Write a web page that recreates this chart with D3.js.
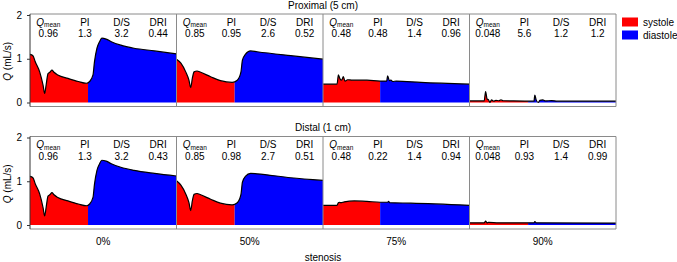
<!DOCTYPE html>
<html><head><meta charset="utf-8">
<script src="https://cdn.jsdelivr.net/npm/d3@7"></script>
<style>
body{margin:0;background:#fff}
text{font-family:"Liberation Sans",Arial,Helvetica,sans-serif;font-size:10px;fill:#000}
</style>
</head><body>
<svg id="chart" width="677" height="262"></svg>
<script>
// ---------- data ----------
const stenosis = ["0%", "50%", "75%", "90%"];
const locations = ["Proximal (5 cm)", "Distal (1 cm)"];
const statNames = ["Qmean", "PI", "D/S", "DRI"];
const yTicks = [0, 1, 2];
const legendLabels = ["systole", "diastole"];
const legendColors = ["#ff0000", "#0000ff"];
const systoleEnd = [0.396, 0.397, 0.39, 0.4];

const proxStats = [
  ["0.96", "1.3", "3.2", "0.44"],
  ["0.85", "0.95", "2.6", "0.52"],
  ["0.48", "0.48", "1.4", "0.96"],
  ["0.048", "5.6", "1.2", "1.2"]
];
const distStats = [
  ["0.96", "1.3", "3.2", "0.43"],
  ["0.85", "0.98", "2.7", "0.51"],
  ["0.48", "0.22", "1.4", "0.94"],
  ["0.048", "0.93", "1.4", "0.99"]
];

// waveforms: [fraction of cardiac cycle, Q (mL/s)]
const prox0 = [[0,1.10],[0.02,1.07],[0.036,0.93],[0.066,0.70],[0.089,0.40],[0.10,0.21],[0.11,0.40],[0.123,0.66],[0.135,0.69],[0.15,0.74],[0.164,0.69],[0.19,0.63],[0.26,0.55],[0.33,0.48],[0.385,0.44],[0.407,0.48],[0.43,0.63],[0.44,0.93],[0.457,1.24],[0.475,1.39],[0.49,1.47],[0.52,1.45],[0.555,1.39],[0.62,1.31],[0.71,1.24],[0.85,1.18],[1.0,1.11]];
const prox50 = [[0,0.99],[0.03,0.90],[0.063,0.70],[0.085,0.51],[0.097,0.34],[0.108,0.55],[0.12,0.70],[0.14,0.72],[0.165,0.69],[0.233,0.59],[0.30,0.50],[0.38,0.46],[0.415,0.51],[0.44,0.70],[0.45,0.97],[0.47,1.10],[0.506,1.18],[0.55,1.16],[0.78,1.07],[1.0,0.99]];
const prox75 = [[0,0.42],[0.096,0.42],[0.105,0.63],[0.116,0.54],[0.127,0.51],[0.139,0.59],[0.15,0.49],[0.168,0.52],[0.2,0.51],[0.3,0.51],[0.39,0.49],[0.435,0.49],[0.441,0.61],[0.453,0.50],[0.464,0.51],[0.476,0.48],[0.5,0.49],[0.669,0.46],[1.0,0.42]];
const prox90 = [[0,0.035],[0.1,0.035],[0.11,0.25],[0.12,0.08],[0.13,0.06],[0.139,0.0],[0.15,0.06],[0.165,0.03],[0.18,0.05],[0.2,0.04],[0.215,0.06],[0.23,0.04],[0.3,0.035],[0.44,0.03],[0.446,0.17],[0.455,0.06],[0.469,0.0],[0.48,0.05],[0.5,0.06],[0.52,0.035],[0.56,0.045],[0.6,0.03],[1.0,0.03]];
const dist0 = [[0,1.11],[0.02,1.08],[0.036,0.94],[0.066,0.71],[0.089,0.40],[0.10,0.21],[0.11,0.40],[0.123,0.66],[0.135,0.69],[0.15,0.74],[0.164,0.69],[0.19,0.63],[0.26,0.55],[0.33,0.48],[0.385,0.44],[0.407,0.48],[0.43,0.63],[0.44,0.93],[0.457,1.25],[0.475,1.40],[0.49,1.48],[0.52,1.46],[0.555,1.40],[0.62,1.32],[0.71,1.25],[0.85,1.18],[1.0,1.12]];
const dist50 = [[0,1.01],[0.03,0.91],[0.063,0.71],[0.085,0.51],[0.097,0.33],[0.108,0.55],[0.12,0.70],[0.14,0.72],[0.165,0.69],[0.233,0.59],[0.30,0.50],[0.38,0.46],[0.415,0.51],[0.44,0.70],[0.45,0.98],[0.47,1.11],[0.506,1.18],[0.55,1.17],[0.78,1.08],[1.0,1.02]];
const dist75 = [[0,0.45],[0.095,0.45],[0.105,0.51],[0.112,0.52],[0.12,0.51],[0.146,0.53],[0.214,0.55],[0.3,0.54],[0.39,0.52],[0.44,0.52],[0.448,0.54],[0.455,0.51],[0.6,0.50],[1.0,0.45]];
const dist90 = [[0,0.05],[0.1,0.05],[0.11,0.09],[0.12,0.05],[0.13,0.06],[0.2,0.05],[0.44,0.05],[0.446,0.08],[0.455,0.05],[1.0,0.045]];

const waves = [[prox0, prox50, prox75, prox90], [dist0, dist50, dist75, dist90]];
const stats = [proxStats, distStats];

// ---------- layout ----------
const svg = d3.select("#chart");
const left = 30, panelW = 146.5;
const rows = [
  {top: 14, bottom: 106.5, y0: 102.5, y2: 15},
  {top: 136.5, bottom: 229, y0: 225, y2: 137.5}
];
const right = left + panelW * stenosis.length;
const frameColor = "#8a8a8a";

const defs = svg.append("defs");

rows.forEach((row, r) => {
  const y = d3.scaleLinear().domain([0, 2]).range([row.y0, row.y2]);
  const g = svg.append("g");

  stenosis.forEach((s, p) => {
    const x0 = left + panelW * p;
    const x = d3.scaleLinear().domain([0, 1]).range([x0, x0 + panelW]);
    const data = waves[r][p];
    const split = systoleEnd[p];

    const idR = `clipR${r}${p}`, idB = `clipB${r}${p}`;
    defs.append("clipPath").attr("id", idR).append("rect")
      .attr("x", x(0)).attr("y", row.top).attr("width", x(split) - x(0)).attr("height", row.bottom - row.top);
    defs.append("clipPath").attr("id", idB).append("rect")
      .attr("x", x(split)).attr("y", row.top).attr("width", x(1) - x(split)).attr("height", row.bottom - row.top);

    const area = d3.area().x(d => x(d[0])).y0(y(0)).y1(d => y(d[1])).curve(d3.curveMonotoneX);
    const line = d3.line().x(d => x(d[0])).y(d => y(d[1])).curve(d3.curveMonotoneX);

    g.append("path").datum(data).attr("d", area).attr("fill", legendColors[0]).attr("clip-path", `url(#${idR})`);
    g.append("path").datum(data).attr("d", area).attr("fill", legendColors[1]).attr("clip-path", `url(#${idB})`);
    g.append("path").datum(data).attr("d", line).attr("fill", "none").attr("stroke", "#000").attr("stroke-width", 1.2);

    // stats
    statNames.forEach((name, i) => {
      const cx = x0 + panelW * (2 * i + 1) / 8;
      const t = g.append("text").attr("x", cx).attr("y", row.top + 11.5).attr("text-anchor", "middle");
      if (name === "Qmean") {
        t.append("tspan").attr("font-style", "italic").text("Q");
        t.append("tspan").attr("font-size", "6.5px").attr("dy", 1.5).text("mean");
      } else {
        t.text(name);
      }
      g.append("text").attr("x", cx).attr("y", row.top + 23).attr("text-anchor", "middle").text(stats[r][p][i]);
    });

    // divider
    if (p > 0) {
      g.append("line").attr("x1", x0).attr("x2", x0).attr("y1", row.top).attr("y2", row.bottom)
        .attr("stroke", frameColor).attr("stroke-width", 1);
    }
  });

  // frame
  g.append("line").attr("x1", left).attr("x2", right).attr("y1", row.top).attr("y2", row.top).attr("stroke", frameColor);
  g.append("line").attr("x1", left).attr("x2", right).attr("y1", row.bottom).attr("y2", row.bottom).attr("stroke", frameColor);
  g.append("line").attr("x1", right).attr("x2", right).attr("y1", row.top).attr("y2", row.bottom).attr("stroke", frameColor);

  // y axis
  const axis = d3.axisLeft(y).tickValues(yTicks).tickSize(3).tickPadding(5).tickFormat(d3.format("d"));
  const ag = svg.append("g").attr("transform", `translate(${left},0)`).call(axis);
  ag.select(".domain").remove();
  ag.selectAll("text").style("font-size", "10px").attr("fill", "#000");
  ag.selectAll(".tick line").attr("stroke", "#333");
  svg.append("line").attr("x1", left).attr("x2", left).attr("y1", row.top).attr("y2", row.bottom)
    .attr("stroke", "#333").attr("stroke-width", 1);

  // y label
  const yl = svg.append("text")
    .attr("transform", `translate(11,${(row.top + row.bottom) / 2 + 1}) rotate(-90)`)
    .attr("text-anchor", "middle");
  yl.append("tspan").attr("font-style", "italic").text("Q");
  yl.append("tspan").text(" (mL/s)");

  // title
  svg.append("text").attr("x", (left + right) / 2).attr("y", row.top - 5.5)
    .attr("text-anchor", "middle").text(locations[r]);
});

// x labels
stenosis.forEach((s, p) => {
  svg.append("text").attr("x", left + panelW * (p + 0.5)).attr("y", 245.3)
    .attr("text-anchor", "middle").text(s);
});
svg.append("text").attr("x", (left + right) / 2).attr("y", 260.5).attr("text-anchor", "middle").text("stenosis");

// legend
legendLabels.forEach((lab, i) => {
  svg.append("rect").attr("x", 622).attr("y", 17.5 + i * 13).attr("width", 16).attr("height", 9)
    .attr("fill", legendColors[i]);
  svg.append("text").attr("x", 643).attr("y", 25.5 + i * 13).text(lab);
});
</script>
</body></html>
